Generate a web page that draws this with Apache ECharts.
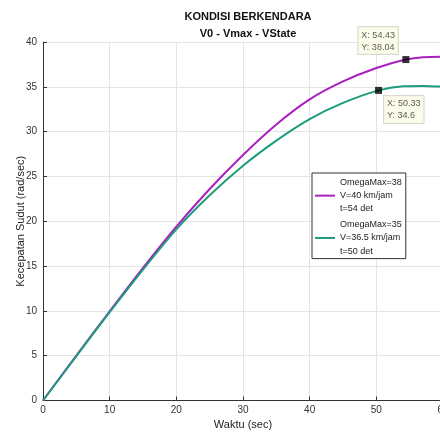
<!DOCTYPE html>
<html>
<head>
<meta charset="utf-8">
<script src="https://cdn.jsdelivr.net/npm/echarts@6/dist/echarts.min.js"></script>
<style>
html, body { margin: 0; padding: 0; background: #fff; }
#chart { width: 440px; height: 434px; }
</style>
</head>
<body>
<div id="chart"></div>
<script>
// data
var waktu38 = [0, 5, 10, 15, 20, 25, 30, 35, 40, 45, 50, 54.43, 57, 60];
var omega38 = [0, 5, 9.95, 14.8, 19.4, 23.6, 27.4, 30.8, 33.6, 35.6, 37.1, 38.04, 38.3, 38.35];
var waktu35 = [0, 5, 10, 15, 20, 25, 30, 35, 40, 45, 50.33, 54, 57, 60];
var omega35 = [0, 4.95, 9.85, 14.6, 19.1, 22.9, 26.2, 29.0, 31.4, 33.2, 34.6, 35.05, 35.1, 35.0];
var tipX = [54.43, 50.33];
var tipY = [38.04, 34.6];
var namaSeri = ['OmegaMax=38\nV=40 km/jam\nt=54 det', 'OmegaMax=35\nV=36.5 km/jam\nt=50 det'];

function pasang(xs, ys) {
	var out = [];
	for (var i = 0; i < xs.length; i++) {
		out.push([xs[i], ys[i]]);
	}
	return out;
}

var tipStyle = {
	show: true,
	fontSize: 9,
	lineHeight: 12,
	color: '#333',
	fontFamily: 'Liberation Sans, Arial, sans-serif',
	backgroundColor: '#fbfbe6',
	borderColor: '#cfcfc0',
	borderWidth: 1,
	padding: [2, 3, 1, 3]
};
var tipPos = [[-44, -29], [9, 9]];
var tipData = [];
for (var k = 0; k < tipX.length; k++) {
	tipData.push({
		value: [tipX[k], tipY[k]],
		label: Object.assign({}, tipStyle, {
			position: tipPos[k],
			formatter: 'X: ' + tipX[k] + '\nY: ' + tipY[k]
		})
	});
}

var chart = echarts.init(document.getElementById('chart'));
var option = {
	backgroundColor: '#fff',
	animation: false,
	textStyle: { fontFamily: 'Liberation Sans, Arial, sans-serif' },
	title: {
		text: 'KONDISI BERKENDARA\nV0 - Vmax - VState',
		left: 243,
		top: 3,
		textAlign: 'center',
		textStyle: { fontSize: 11, fontWeight: 'bold', color: '#111', lineHeight: 17 }
	},
	legend: {
		orient: 'vertical',
		left: 312,
		top: 173,
		data: namaSeri,
		backgroundColor: '#fff',
		borderColor: '#333',
		borderWidth: 1,
		padding: [3, 4, 1, 3],
		itemGap: 3,
		itemWidth: 20,
		itemHeight: 2,
		icon: 'rect',
		textStyle: { fontSize: 9, lineHeight: 13.1, color: '#222' }
	},
	grid: { left: 43, top: 42, width: 400, height: 358.5, outerBoundsMode: 'none', containLabel: false },
	xAxis: {
		type: 'value',
		min: 0,
		max: 60,
		interval: 10,
		name: 'Waktu (sec)',
		nameLocation: 'middle',
		nameGap: 19,
		nameMoveOverlap: false,
		nameTextStyle: { fontSize: 11, color: '#222' },
		axisLine: { lineStyle: { color: '#333' } },
		axisTick: { inside: true, length: 4, lineStyle: { color: '#333' } },
		axisLabel: { fontSize: 10, color: '#333', margin: 5, showMaxLabel: true },
		splitLine: { show: true, lineStyle: { color: '#e4e4e4' } }
	},
	yAxis: {
		type: 'value',
		min: 0,
		max: 40,
		interval: 5,
		name: 'Kecepatan Sudut (rad/sec)',
		nameLocation: 'middle',
		nameGap: 17,
		nameMoveOverlap: false,
		nameTextStyle: { fontSize: 11, color: '#222' },
		axisLine: { show: true, lineStyle: { color: '#333' } },
		axisTick: { show: true, inside: true, length: 4, lineStyle: { color: '#333' } },
		axisLabel: { fontSize: 10, color: '#333', margin: 6 },
		splitLine: { show: true, lineStyle: { color: '#e4e4e4' } }
	},
	series: [
		{
			name: namaSeri[0],
			type: 'line',
			data: pasang(waktu38, omega38),
			smooth: 0.35,
			showSymbol: false,
			color: '#aa1fbf',
			lineStyle: { width: 2, color: '#aa1fbf' }
		},
		{
			name: namaSeri[1],
			type: 'line',
			data: pasang(waktu35, omega35),
			smooth: 0.35,
			showSymbol: false,
			color: '#1c9c7c',
			lineStyle: { width: 2, color: '#1c9c7c' }
		},
		{
			name: 'tips',
			type: 'scatter',
			symbol: 'rect',
			symbolSize: 7,
			itemStyle: { color: '#000' },
			data: tipData,
			z: 5
		}
	]
};
chart.setOption(option);
</script>
</body>
</html>
